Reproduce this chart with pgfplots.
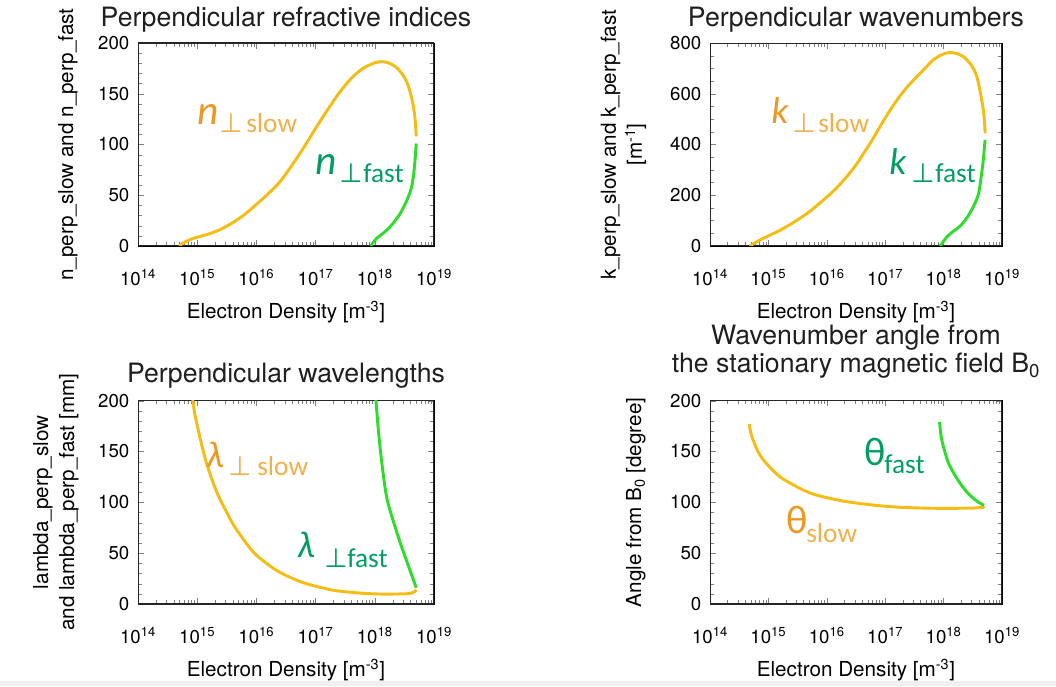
\documentclass[border=0pt]{standalone}
\usepackage{fontspec}
\setmainfont{TeX Gyre Heros}
\newfontfamily\callab{Carlito}
\newfontfamily\perpfont{DejaVu Sans}
\usepackage{pgfplots}
\pgfplotsset{compat=1.18}

\definecolor{slowline}{RGB}{245,188,20}
\definecolor{fastline}{RGB}{45,220,45}
\definecolor{slowtext}{RGB}{236,152,35}
\definecolor{slowsub}{RGB}{240,176,75}
\definecolor{fasttext}{RGB}{0,158,96}

% shared look of the four log-x panels
\pgfplotsset{every axis/.append style={
    scale only axis,
    xtick={1e14,1e15,1e16,1e17,1e18,1e19},
    xticklabels={10\textsuperscript{14},10\textsuperscript{15},10\textsuperscript{16},10\textsuperscript{17},10\textsuperscript{18},10\textsuperscript{19}},
    minor xtick={2e14,3e14,4e14,5e14,6e14,7e14,8e14,9e14,
                 2e15,3e15,4e15,5e15,6e15,7e15,8e15,9e15,
                 2e16,3e16,4e16,5e16,6e16,7e16,8e16,9e16,
                 2e17,3e17,4e17,5e17,6e17,7e17,8e17,9e17,
                 2e18,3e18,4e18,5e18,6e18,7e18,8e18,9e18},
    tick align=inside,
    tick label style={font=\fontsize{14}{16}\selectfont},
    xticklabel style={yshift=-14pt},
    yticklabel style={xshift=-3pt},
    label style={font=\fontsize{15.5}{19.5}\selectfont},
    xlabel={Electron Density [m\textsuperscript{-3}]},
    xlabel style={at={(axis description cs:0.5,0)}, anchor=base, yshift=-54pt},
}}

\begin{document}
\begin{tikzpicture}
\begin{scope}[x=0.75pt,y=0.75pt]
\path[use as bounding box] (0,0) rectangle (1056,686);
\fill[black!6] (0,0) rectangle (1056,5);
\end{scope}

% ---------- refractive indices ----------
\begin{axis}[xmode=log, xmin=1e14, xmax=1e19,
  at={(103.5pt,330pt)}, anchor=south west, width=222pt, height=152.25pt,
  ymin=0, ymax=200, ytick={0,50,100,150,200}, yticklabels={0,50,100,150,200},
  minor y tick num=4,
  ylabel={n\_perp\_slow and n\_perp\_fast},
  ylabel style={at={(axis description cs:-0.2196,0.5)}, anchor=base}]
\draw[black!85, line width=0.8pt] (rel axis cs:0,0) rectangle (rel axis cs:1,1);
\addplot[slowline, line width=2.2pt, smooth, no marks] coordinates {
 (5.012e14,0) (5.623e14,2.5) (7.079e14,5.5) (8.913e14,7.8) (1.122e15,9.5)
 (1.585e15,12) (2.512e15,16.5) (3.981e15,23) (6.310e15,31) (1e16,41)
 (1.585e16,51.5) (2.512e16,63.5) (3.981e16,79.5) (6.310e16,97) (1e17,116)
 (1.585e17,134) (2.512e17,151) (3.981e17,165) (6.310e17,175) (1e18,180.5)
 (1.259e18,181.6) (1.585e18,181) (1.995e18,178.5) (2.512e18,174) (3.162e18,166)
 (3.548e18,160) (3.981e18,151) (4.467e18,138) (4.786e18,125) (5.012e18,108)};
\addplot[fastline, line width=2.2pt, smooth, no marks] coordinates {
 (8.511e17,0) (9.120e17,2.5) (1.072e18,7.5) (1.413e18,13) (1.820e18,19)
 (2.239e18,25.5) (2.692e18,32) (3.236e18,41) (3.715e18,49) (4.169e18,58)
 (4.519e18,70) (4.786e18,85) (5.012e18,101)};
\end{axis}

% ---------- wavenumbers ----------
\begin{axis}[xmode=log, xmin=1e14, xmax=1e19,
  at={(532.5pt,330pt)}, anchor=south west, width=219pt, height=152.25pt,
  ymin=0, ymax=800, ytick={0,200,400,600,800}, yticklabels={0,200,400,600,800},
  minor y tick num=3,
  ylabel={k\_perp\_slow and k\_perp\_fast\\{}[m\textsuperscript{-1}]},
  ylabel style={at={(axis description cs:-0.233,0.5)}, anchor=base, align=center}]
\draw[black!85, line width=0.8pt] (rel axis cs:0,0) rectangle (rel axis cs:1,1);
\addplot[slowline, line width=2.2pt, smooth, no marks] coordinates {
 (4.786e14,0) (5.623e14,10) (8.128e14,30) (1.585e15,62) (3.020e15,100)
 (5.012e15,135) (8.710e15,181) (1.413e16,225) (2.188e16,273) (3.162e16,320)
 (4.266e16,365) (5.888e16,415) (8.128e16,470) (1.122e17,523) (1.585e17,575)
 (2.344e17,625) (3.467e17,667) (5.012e17,705) (6.607e17,733) (8.913e17,752)
 (1.202e18,762) (1.585e18,760) (2.188e18,746) (2.818e18,720) (3.311e18,695)
 (3.715e18,667) (4.169e18,615) (4.571e18,565) (4.786e18,536) (5.012e18,490)
 (5.129e18,444)};
\addplot[fastline, line width=2.2pt, smooth, no marks] coordinates {
 (8.710e17,0) (9.550e17,12) (1.122e18,35) (1.413e18,55) (1.905e18,78)
 (2.399e18,105) (2.818e18,130) (3.388e18,165) (3.981e18,208) (4.467e18,285)
 (4.786e18,340) (5.129e18,418)};
\end{axis}

% ---------- wavelengths ----------
\begin{axis}[xmode=log, xmin=1e14, xmax=1e19,
  at={(103.5pt,61.5pt)}, anchor=south west, width=222pt, height=152.5pt,
  ymin=0, ymax=200, ytick={0,50,100,150,200}, yticklabels={0,50,100,150,200},
  minor y tick num=4,
  ylabel={lambda\_perp\_slow\\and lambda\_perp\_fast [mm]},
  ylabel style={at={(axis description cs:-0.216,0.5)}, anchor=base, align=center}]
\draw[black!85, line width=0.8pt] (rel axis cs:0,0) rectangle (rel axis cs:1,1);
\addplot[slowline, line width=2.2pt, smooth, no marks] coordinates {
 (7.943e14,215) (8.913e14,190) (1.122e15,163) (1.445e15,138) (2.138e15,110)
 (3.162e15,90) (4.074e15,78) (5.623e15,66) (7.762e15,55) (1e16,48)
 (1.479e16,40) (2.512e16,31) (5.495e16,22) (1e17,17.5) (1.995e17,13.5)
 (3.981e17,11.5) (7.244e17,10.3) (1.259e18,9.8) (1.995e18,9.8) (3.162e18,10)
 (3.981e18,10.5) (4.677e18,12) (5.012e18,14)};
\addplot[fastline, line width=2.2pt, smooth, no marks] coordinates {
 (1e18,215) (1.047e18,200) (1.148e18,171) (1.318e18,138) (1.585e18,105)
 (2.042e18,82) (2.692e18,60) (3.467e18,42) (4.169e18,29) (4.571e18,22.5)
 (5.012e18,16)};
\end{axis}

% ---------- angle from B0 ----------
\begin{axis}[xmode=log, xmin=1e14, xmax=1e19,
  at={(532.5pt,61.5pt)}, anchor=south west, width=219pt, height=152.5pt,
  ymin=0, ymax=200, ytick={0,50,100,150,200}, yticklabels={0,50,100,150,200},
  minor y tick num=4,
  ylabel={Angle from B\textsubscript{0} [degree]},
  ylabel style={at={(axis description cs:-0.236,0.5)}, anchor=base}]
\draw[black!85, line width=0.8pt] (rel axis cs:0,0) rectangle (rel axis cs:1,1);
\addplot[slowline, line width=2.2pt, smooth, no marks] coordinates {
 (4.677e14,177) (5.012e14,168) (5.495e14,161) (6.607e14,150) (8.128e14,142)
 (1.122e15,133) (1.585e15,125) (2.512e15,118) (3.981e15,112) (6.310e15,107.5)
 (1.122e16,104) (1.995e16,101) (4.169e16,98.5) (7.943e16,96.7) (1.585e17,95.3)
 (3.162e17,94.6) (5.888e17,94.2) (1.122e18,94.1) (2.188e18,94.2) (3.548e18,94.5)
 (4.786e18,95.2) (5.012e18,96)};
\addplot[fastline, line width=2.2pt, smooth, no marks] coordinates {
 (8.511e17,179) (8.913e17,168) (9.333e17,161) (1.047e18,150) (1.202e18,139)
 (1.514e18,128) (1.905e18,119) (2.512e18,110) (3.236e18,104) (3.981e18,100)
 (4.898e18,97)};
\end{axis}

\begin{scope}[x=0.75pt,y=0.75pt]
% ---------- titles ----------
\begin{scope}[every node/.style={anchor=base, inner sep=0pt, text=black!88, font=\fontsize{20}{24}\selectfont}]
\node at (286,659) {Perpendicular refractive indices};
\node at (856,659) {Perpendicular wavenumbers};
\node at (286,303) {Perpendicular wavelengths};
\node at (856,341) {Wavenumber angle from};
\node at (856,313) {the stationary magnetic field B\textsubscript{0}};
\end{scope}

% ---------- curve labels ----------
\begin{scope}[every node/.style={anchor=base west, inner sep=0pt}]
\def\bigsym{\callab\fontsize{31}{31}\selectfont}
\def\subtxt{\callab\fontsize{20.5}{20.5}\selectfont}
\def\perpsym{\perpfont\fontsize{20}{20}\selectfont ⊥}
% refractive indices
\node[text=slowtext] at (197,561) {\bigsym\itshape n};
\node[text=slowsub] at (219,553) {\perpsym};
\node[text=slowsub] at (246,553) {\subtxt slow};
\node[text=fasttext] at (315,511) {\bigsym\itshape n};
\node[text=fasttext] at (339,503) {\perpsym};
\node[text=fasttext] at (363,503) {\subtxt fast};
% wavenumbers
\node[text=slowtext] at (771,562) {\callab\fontsize{28}{28}\selectfont\itshape k};
\node[text=slowsub] at (792,553) {\perpsym};
\node[text=slowsub] at (818,553) {\subtxt slow};
\node[text=fasttext] at (889,511) {\callab\fontsize{28}{28}\selectfont\itshape k};
\node[text=fasttext] at (911,503) {\perpsym};
\node[text=fasttext] at (935,503) {\subtxt fast};
% wavelengths
\node[text=slowtext] at (206,219) {\callab\fontsize{28}{28}\selectfont\itshape λ};
\node[text=slowsub] at (228,211) {\perpsym};
\node[text=slowsub] at (257,211) {\subtxt slow};
\node[text=fasttext] at (297,129) {\callab\fontsize{28}{28}\selectfont\itshape λ};
\node[text=fasttext] at (324,119) {\perpsym};
\node[text=fasttext] at (347,119) {\subtxt fast};
% angles
\node[text=slowtext] at (786,153) {\callab\fontsize{30}{30}\selectfont θ};
\node[text=slowsub] at (806,144) {\subtxt slow};
\node[text=fasttext] at (864,221) {\callab\fontsize{30}{30}\selectfont θ};
\node[text=fasttext] at (884,213) {\subtxt fast};
\end{scope}
\end{scope}
\end{tikzpicture}
\end{document}
